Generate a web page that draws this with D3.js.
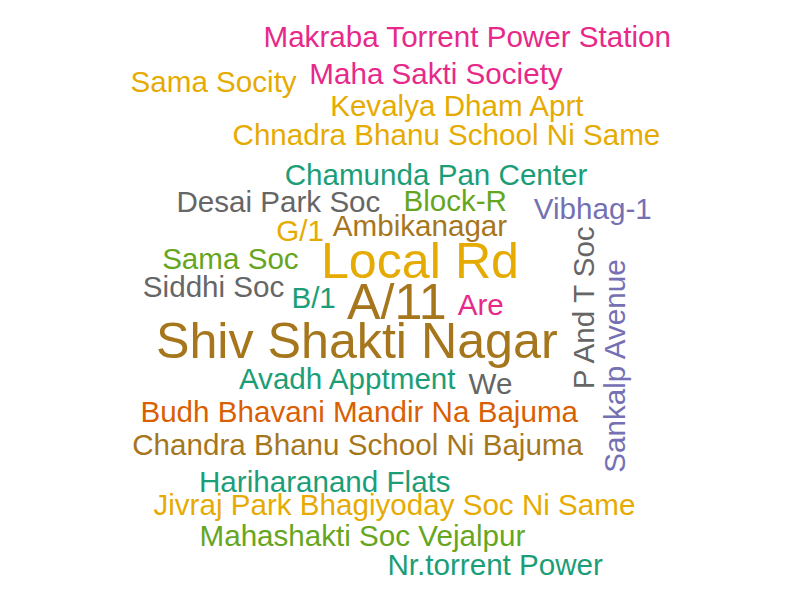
<!DOCTYPE html>
<html>
<head>
<meta charset="utf-8">
<script src="https://cdn.jsdelivr.net/npm/d3@7"></script>
<style>
  html, body { margin: 0; padding: 0; background: #ffffff; }
  svg { display: block; }
</style>
</head>
<body>
<svg id="chart" width="800" height="600"></svg>
<script>
// ---- data ----
const words = [
  "Makraba Torrent Power Station", "Sama Socity", "Maha Sakti Society", "Kevalya Dham Aprt",
  "Chnadra Bhanu School Ni Same", "Chamunda Pan Center", "Desai Park Soc", "Block-R",
  "Vibhag-1", "G/1", "Ambikanagar", "Sama Soc", "Local Rd", "Siddhi Soc", "B/1", "A/11",
  "Are", "P And T Soc", "Sankalp Avenue", "Shiv Shakti Nagar", "Avadh Apptment", "We",
  "Budh Bhavani Mandir Na Bajuma", "Chandra Bhanu School Ni Bajuma", "Hariharanand Flats",
  "Jivraj Park Bhagiyoday Soc Ni Same", "Mahashakti Soc Vejalpur", "Nr.torrent Power"
];
const freqs = [1,1,1,1, 1,1,1,1, 1,1,1,1, 2,1,1,2, 1,1,1,2, 1,1, 1,1,1, 1,1,1];
// index into the Dark2 palette
const colorIdx = [3,5,3,5, 5,0,7,4, 2,5,6,4, 5,7,0,6, 3,7,2,6, 0,7, 1,6,0, 5,4,0];
const rotated  = [0,0,0,0, 0,0,0,0, 0,0,0,0, 0,0,0,0, 0,1,1,0, 0,0, 0,0,0, 0,0,0];

// ---- layout result (word placement in unit frame coordinates) ----
const layoutX = [0.584,0.267,0.545,0.571, 0.558,0.545,0.348,0.569, 0.741,0.375,0.525,0.288,
  0.525,0.267,0.392,0.496, 0.601,0.742,0.781,0.446, 0.434,0.613, 0.449,0.447,0.406, 0.493,0.453,0.619];
const layoutY = [0.078,0.154,0.140,0.193, 0.242,0.309,0.354,0.351, 0.365,0.401,0.393,0.448,
  0.464,0.495,0.513,0.531, 0.525,0.513,0.610,0.596, 0.648,0.656, 0.703,0.758,0.820, 0.858,0.910,0.958];

// ---- drawing ----
const width = 800, height = 600;
const svg = d3.select("#chart");
const x = d3.scaleLinear().domain([0, 1]).range([0, width]);
const y = d3.scaleLinear().domain([0, 1]).range([0, height]);
const size = d3.scaleLinear().domain([1, 2]).range([29.6, 50.2]);
const color = d3.scaleOrdinal().domain(d3.range(8)).range(d3.schemeDark2);

const data = words.map((w, i) => ({
  text: w, freq: freqs[i], c: colorIdx[i], rot: rotated[i], lx: layoutX[i], ly: layoutY[i]
}));

svg.append("g")
  .selectAll("text")
  .data(data)
  .join("text")
  .attr("transform", d => `translate(${x(d.lx)},${y(d.ly)})` + (d.rot ? " rotate(-90)" : ""))
  .attr("text-anchor", "middle")
  .attr("font-family", "'Liberation Sans', Arial, sans-serif")
  .attr("font-size", d => size(d.freq))
  .attr("fill", d => color(d.c))
  .text(d => d.text);
</script>
</body>
</html>
